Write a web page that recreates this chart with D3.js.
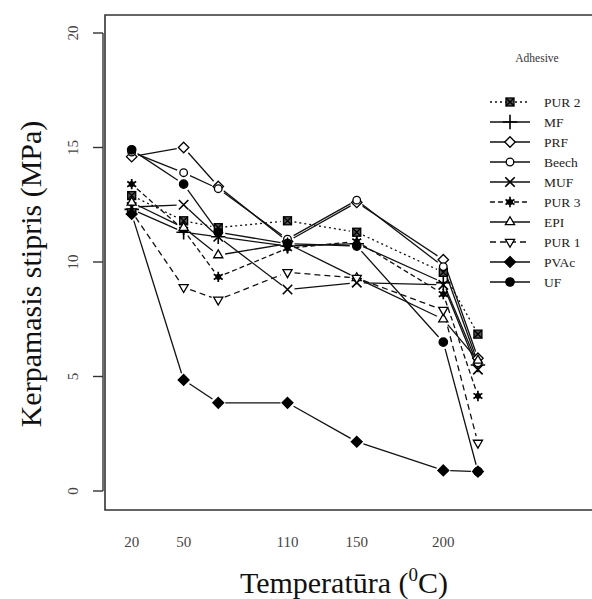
<!DOCTYPE html>
<html>
<head>
<meta charset="utf-8">
<script src="https://cdn.jsdelivr.net/npm/d3@7"></script>
<style>
  body { margin: 0; background: #fff; }
  svg { display: block; font-family: "Liberation Serif", "DejaVu Serif", serif; }
</style>
</head>
<body>
<svg id="chart" width="592" height="599"></svg>
<script>
// temperatures measured, and the labelled ticks
const temps = [20, 50, 70, 110, 150, 200, 220]
const xTicks = [20, 50, 110, 150, 200]
const yTicks = [0, 5, 10, 15, 20]

const adhesives = ['PUR 2', 'MF', 'PRF', 'Beech', 'MUF', 'PUR 3', 'EPI', 'PUR 1', 'PVAc', 'UF']

// shear strength (MPa) per temperature
const pur2 = [12.9, 11.8, 11.5, 11.8, 11.3, 9.55, 6.85]
const mf = [12.3, 11.3, 11.1, 10.7, 10.8, 9.1, 5.5]
const prf = [14.6, 15.0, 13.3, 10.9, 12.6, 10.1, 5.8]
const beech = [14.8, 13.9, 13.2, 11.0, 12.7, 9.8, 5.6]
const muf = [12.4, 12.5, 11.1, 8.8, 9.1, 9.0, 5.3]
const pur3 = [13.4, 11.4, 9.35, 10.6, 10.9, 8.6, 4.15]
const epi = [12.6, 11.5, 10.3, 10.8, 9.3, 7.5, 5.7]
const pur1 = [12.2, 8.9, 8.35, 9.55, 9.3, 7.9, 2.1]
const pvac = [12.1, 4.85, 3.85, 3.85, 2.15, 0.9, 0.85]
const uf = [14.9, 13.4, 11.3, 10.8, 10.7, 6.5, 0.85]

const values = [pur2, mf, prf, beech, muf, pur3, epi, pur1, pvac, uf]
const dashes = [
  '2,3', null, null, null, null, '5,3', null, '6,4', null, null
]
const markers = ['boxx', 'plus', 'diamond', 'circle', 'times', 'asterisk', 'triangle', 'down', 'fdiamond', 'fcircle']

const series = adhesives.map((name, i) => ({
  name, dash: dashes[i], marker: markers[i],
  points: temps.map((t, j) => ({ t, v: values[i][j] }))
}))

const svg = d3.select('#chart')
const x = d3.scaleLinear().domain([20, 200]).range([131.7, 443.3])
const y = d3.scaleLinear().domain([0, 20]).range([491, 33])

// box (right edge runs off the picture)
const box = svg.append('g').attr('stroke', '#333').attr('stroke-width', 1.6).attr('fill', 'none')
box.append('path').attr('d', 'M600,15 H105 V510 H600')

// y axis
const yAxis = svg.append('g').attr('stroke', '#333').attr('stroke-width', 1.4)
yAxis.append('line').attr('x1', 103).attr('x2', 103).attr('y1', y(20)).attr('y2', y(0))
yAxis.selectAll('.tick').data(yTicks).enter().append('line')
  .attr('x1', 93).attr('x2', 103).attr('y1', y).attr('y2', y)

svg.append('g').selectAll('text').data(yTicks).enter().append('text')
  .attr('transform', (d) => `translate(78,${y(d)}) rotate(-90)`)
  .attr('text-anchor', 'middle')
  .style('font-size', '15px').style('fill', '#444')
  .text((d) => d)

svg.append('g').selectAll('text').data(xTicks).enter().append('text')
  .attr('x', x).attr('y', 547)
  .attr('text-anchor', 'middle')
  .style('font-size', '15px').style('fill', '#444')
  .text((d) => d)

// titles
const xt = svg.append('text').attr('x', 344).attr('y', 593).attr('text-anchor', 'middle')
  .style('font-size', '30px').style('fill', '#111')
xt.append('tspan').text('Temperatūra (')
xt.append('tspan').attr('dy', -12).style('font-size', '19px').text('0')
xt.append('tspan').attr('dy', 12).text('C)')

svg.append('text').attr('transform', 'translate(41,274) rotate(-90)')
  .attr('text-anchor', 'middle')
  .style('font-size', '30px').style('fill', '#111')
  .text('Kerpamasis stipris (MPa)')

const sym = (type, size) => d3.symbol().type(type).size(size)()

const drawMarker = (g, kind) => {
  const s = g.append('g').attr('stroke', '#000').attr('stroke-width', 1.3)
  if (kind === 'boxx') {
    s.append('rect').attr('x', -4).attr('y', -4).attr('width', 8).attr('height', 8).attr('fill', '#555')
    s.append('path').attr('d', sym(d3.symbolTimes, 45)).attr('fill', 'none')
  } else if (kind === 'plus') {
    s.append('path').attr('d', sym(d3.symbolPlus, 70)).attr('fill', 'none').attr('stroke-width', 1.6)
  } else if (kind === 'diamond') {
    s.append('path').attr('d', sym(d3.symbolDiamond2, 70)).attr('fill', '#fff')
  } else if (kind === 'circle') {
    s.append('circle').attr('r', 3.8).attr('fill', '#fff')
  } else if (kind === 'times') {
    s.append('path').attr('d', sym(d3.symbolTimes, 60)).attr('fill', 'none').attr('stroke-width', 1.6)
  } else if (kind === 'asterisk') {
    s.append('path').attr('d', sym(d3.symbolAsterisk, 75)).attr('fill', 'none').attr('stroke-width', 1.7)
    s.append('circle').attr('r', 2.4).attr('fill', '#000')
  } else if (kind === 'triangle') {
    s.append('path').attr('d', sym(d3.symbolTriangle2, 60)).attr('fill', '#fff')
  } else if (kind === 'down') {
    s.append('path').attr('d', sym(d3.symbolTriangle2, 60)).attr('fill', '#fff').attr('transform', 'rotate(180)')
  } else if (kind === 'fdiamond') {
    s.append('path').attr('d', sym(d3.symbolDiamond2, 75)).attr('fill', '#000')
  } else if (kind === 'fcircle') {
    s.append('circle').attr('r', 4.2).attr('fill', '#000')
  }
}

// lines, type "b": gaps left around each point
const gLines = svg.append('g')
const gap = 7
series.forEach((s) => {
  const px = s.points.map((p) => [x(p.t), y(p.v)])
  const segs = d3.pairs(px).map(([a, b]) => {
    const dx = b[0] - a[0], dy = b[1] - a[1]
    const L = Math.hypot(dx, dy)
    if (L <= 2 * gap) return null
    const ux = dx / L, uy = dy / L
    return [[a[0] + ux * gap, a[1] + uy * gap], [b[0] - ux * gap, b[1] - uy * gap]]
  }).filter(Boolean)
  gLines.append('g').selectAll('line').data(segs).enter().append('line')
    .attr('x1', (d) => d[0][0]).attr('y1', (d) => d[0][1])
    .attr('x2', (d) => d[1][0]).attr('y2', (d) => d[1][1])
    .attr('stroke', '#111').attr('stroke-width', 1.3)
    .attr('stroke-dasharray', s.dash)
})

const gPoints = svg.append('g')
series.forEach((s) => {
  s.points.forEach((p) => {
    const g = gPoints.append('g').attr('transform', `translate(${x(p.t)},${y(p.v)})`)
    drawMarker(g, s.marker)
  })
})

// legend
const legend = svg.append('g')
legend.append('text').attr('x', 537).attr('y', 62).attr('text-anchor', 'middle')
  .style('font-size', '11.5px').style('fill', '#333').text('Adhesive')
const items = legend.selectAll('g.item').data(series).enter().append('g')
  .attr('transform', (d, i) => `translate(510,${102 + i * 20})`)
items.append('line').attr('x1', -20).attr('x2', 20)
  .attr('stroke', '#111').attr('stroke-width', 1.4)
  .attr('stroke-dasharray', (d) => d.dash)
items.each(function (d) { drawMarker(d3.select(this), d.marker) })
items.append('text').attr('x', 34).attr('dy', '0.35em')
  .style('font-size', '13.5px').style('fill', '#222').text((d) => d.name)
</script>
</body>
</html>
